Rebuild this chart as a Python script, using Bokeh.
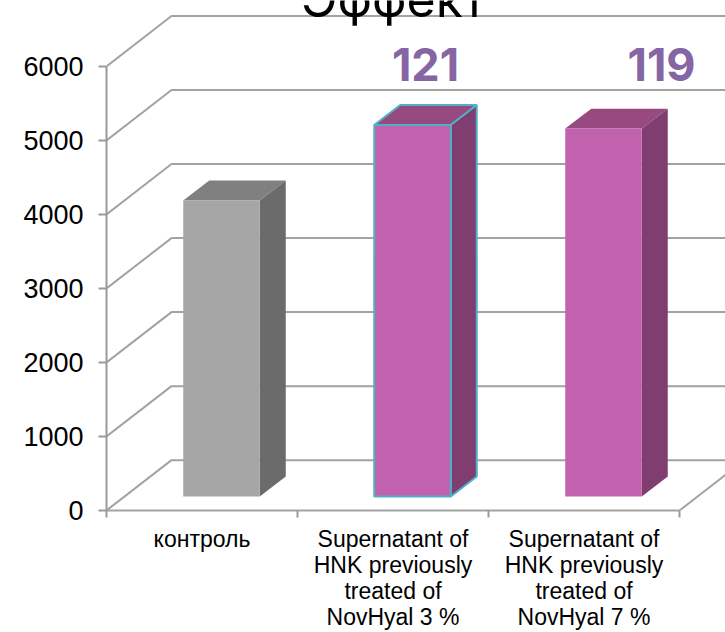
from bokeh.plotting import figure
from bokeh.models import FixedTicker, LinearAxis, Range1d
from bokeh.embed import file_html
from bokeh.resources import INLINE
from bokeh.core.properties import value

title_text = "Эффект"
categories = ["контроль",
              "Supernatant of\nHNK previously\ntreated of\nNovHyal 3 %",
              "Supernatant of\nHNK previously\ntreated of\nNovHyal 7 %"]
bar_values = [4000, 5020, 4970]
bar_labels = ["", "121", "119"]
y_ticks = [0, 1000, 2000, 3000, 4000, 5000, 6000]

FRONT = ["#A6A6A6", "#C261AD", "#C261AD"]
TOP = ["#808080", "#964A80", "#964A80"]
SIDE = ["#6B6B6B", "#7F3D70", "#7F3D70"]
EDGE = [None, "#4FB0C8", None]

# pixel scale of the reference chart
PX_X, PX_Y = 191.0, 74.17
W, H = 725, 632
LEFT, BOTTOM = 106, 632 - 511

p = figure(width=W, height=H, output_backend="svg", toolbar_location=None,
           x_range=Range1d(0, (725 - 106) / PX_X), y_range=Range1d(0, 511 / PX_Y * 1000),
           x_axis_location=None, y_axis_location=None,
           min_border_left=LEFT, min_border_right=0, min_border_top=0, min_border_bottom=BOTTOM)
p.outline_line_color = None
p.background_fill_color = None
p.border_fill_color = "white"
p.xgrid.visible = False
p.ygrid.visible = False

GRID = "#A3A3A3"
WALL_DX, WALL_DY = 65 / PX_X, 680.0

# walls and floor
for v in y_ticks:
    p.line([0, WALL_DX, 4], [v, v + WALL_DY, v + WALL_DY], line_color=GRID, line_width=2)
p.line([3, 3 + WALL_DX], [0, WALL_DY], line_color=GRID, line_width=2)

yaxis = LinearAxis(ticker=FixedTicker(ticks=y_ticks), bounds=(0, 6000),
                   axis_line_color="#999999", axis_line_width=2,
                   major_tick_line_color="#999999", major_tick_line_width=2,
                   major_tick_out=8, major_tick_in=0, minor_tick_out=0, minor_tick_in=0,
                   major_label_standoff=15, major_label_text_font="Liberation Sans",
                   major_label_text_font_size="27px", major_label_text_color="#000000")
p.add_layout(yaxis, "left")

xaxis = LinearAxis(ticker=FixedTicker(ticks=[0.5, 1.5, 2.5], minor_ticks=[0, 1, 2, 3]), bounds=(0, 3),
                   axis_line_color="#A3A3A3", axis_line_width=2,
                   major_tick_out=0, major_tick_in=0,
                   minor_tick_line_color="#999999", minor_tick_line_width=2,
                   minor_tick_out=7, minor_tick_in=0,
                   major_label_overrides={0.5: categories[0], 1.5: categories[1], 2.5: categories[2]},
                   major_label_standoff=8, major_label_text_font="Liberation Sans",
                   major_label_text_font_size="23px", major_label_text_color="#000000",
                   major_label_text_line_height=1.0)
p.add_layout(xaxis, "below")

# 3-D bars, from the values through the plot's scales
BAR_W = 76.5 / PX_X
SHIFT_X, SHIFT_Y = 19.5 / PX_X, 14 / PX_Y * 1000
DEPTH_X, DEPTH_Y = 26 / PX_X, 20 / PX_Y * 1000
for i, val in enumerate(bar_values):
    x0 = i + 0.5 + SHIFT_X - BAR_W / 2
    x1 = x0 + BAR_W
    y0 = SHIFT_Y
    y1 = SHIFT_Y + val
    edge = EDGE[i] if EDGE[i] else None
    lw = 2 if edge else 0
    p.patch([x0, x1, x1 + DEPTH_X, x0 + DEPTH_X], [y1, y1, y1 + DEPTH_Y, y1 + DEPTH_Y],
            fill_color=TOP[i], line_color=edge, line_width=lw)
    p.patch([x1, x1 + DEPTH_X, x1 + DEPTH_X, x1], [y0, y0 + DEPTH_Y, y1 + DEPTH_Y, y1],
            fill_color=SIDE[i], line_color=edge, line_width=lw)
    p.patch([x0, x1, x1, x0], [y0, y0, y1, y1],
            fill_color=FRONT[i], line_color=edge, line_width=lw)

# texts
p.text([(425 - 106) / PX_X, (661 - 106) / PX_X], [6027, 6027], text=bar_labels[1:],
       text_font=value("Inter"), text_font_style="bold", text_font_size="45px",
       text_color="#8565A3", text_align="center", text_baseline="middle")
p.text([(393 - 106) / PX_X], [(511 + 2) / PX_Y * 1000], text=[title_text],
       text_font=value("Inter"), text_font_size="50px", text_color="#000000",
       text_align="center", text_baseline="alphabetic")

open("out.html", "w").write(file_html(p, INLINE))
